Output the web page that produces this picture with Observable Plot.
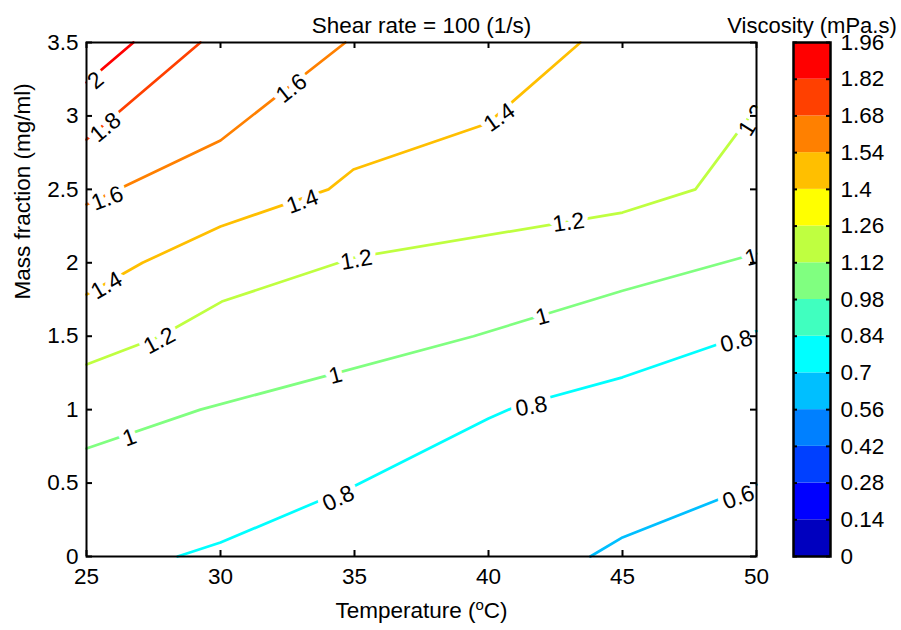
<!DOCTYPE html>
<html>
<head>
<meta charset="utf-8">
<script src="https://cdn.jsdelivr.net/npm/d3@7"></script>
<script src="https://cdn.jsdelivr.net/npm/@observablehq/plot@0.6"></script>
<style>
  body { margin: 0; background: white; }
  #wrap { position: relative; width: 901px; height: 630px; background: white; }
  #wrap svg { display: block; }
  #cb { position: absolute; left: 700px; top: 0; }
</style>
</head>
<body>
<div id="wrap"><div id="main"></div><div id="cb"></div></div>
<script>
// ---------- data ----------
const titleText = "Shear rate = 100 (1/s)";
const xLabel = "Temperature (oC)";
const yLabel = "Mass fraction (mg/ml)";
const cbTitle = "Viscosity (mPa.s)";

const xTicks = [25, 30, 35, 40, 45, 50];
const xTickLabels = ["25", "30", "35", "40", "45", "50"];
const yTicks = [0, 0.5, 1, 1.5, 2, 2.5, 3, 3.5];
const yTickLabels = ["0", "0.5", "1", "1.5", "2", "2.5", "3", "3.5"];

const cbTicks = [0, 0.14, 0.28, 0.42, 0.56, 0.7, 0.84, 0.98, 1.12, 1.26, 1.4, 1.54, 1.68, 1.82, 1.96];
const cbTickLabels = ["0", "0.14", "0.28", "0.42", "0.56", "0.7", "0.84", "0.98", "1.12", "1.26", "1.4", "1.54", "1.68", "1.82", "1.96"];
const cbColors = ["#0000BF", "#0000FF", "#0040FF", "#0080FF", "#00BFFF", "#00FFFF", "#40FFBF",
                  "#80FF80", "#BFFF40", "#FFFF00", "#FFBF00", "#FF8000", "#FF4000", "#FF0000"];

// contour lines: [temperature, mass fraction]
const levels = [0.6, 0.8, 1, 1.2, 1.4, 1.6, 1.8, 2];
const c06 = [[43.8, 0], [45, 0.13], [50, 0.49]];
const c08 = [[28.4, 0], [30, 0.095], [35, 0.48], [40, 0.94], [41, 1.02], [45, 1.22], [50, 1.535]];
const c10 = [[25, 0.735], [29.25, 1.0], [39.44, 1.5], [45, 1.81], [50, 2.063]];
const c12 = [[25, 1.307], [27.76, 1.5], [30.05, 1.736], [35, 2.036], [45, 2.342], [47.72, 2.5], [50, 3.06]];
const c14 = [[25, 1.784], [27.09, 2.0], [30, 2.247], [34.03, 2.5], [34.96, 2.635], [39.96, 2.948], [43.43, 3.5]];
const c16 = [[25, 2.397], [30, 2.833], [34.66, 3.5]];
const c18 = [[25, 2.839], [29.25, 3.5]];
const c20 = [[25, 3.228], [26.75, 3.5]];
const contourPts = [c06, c08, c10, c12, c14, c16, c18, c20];

// contour labels
const labelText  = ["2", "1.8", "1.6", "1.6", "1.4", "1.4", "1.4", "1.2", "1.2", "1.2", "1.2", "1", "1", "1", "1", "0.8", "0.8", "0.8", "0.6"];
const labelT     = [25.34, 25.71, 25.78, 32.65, 25.75, 33.06, 40.41, 27.72, 35.07, 42.99, 49.85, 26.6, 34.29, 42.01, 49.81, 34.4, 41.6, 49.25, 49.33];
const labelM     = [3.241, 2.921, 2.438, 3.187, 1.845, 2.417, 2.989, 1.47, 2.02, 2.274, 2.97, 0.81, 1.232, 1.634, 2.036, 0.395, 1.021, 1.464, 0.402];
const labelAngle = [-40, -40, -21, -38, -30, -20, -35, -28, -10, -8, -58, -20, -15, -16, -15, -25, -10, -15, -20];

// ---------- tables ----------
const lineRows = [];
levels.forEach((lv, i) => contourPts[i].forEach(([T, m]) => lineRows.push({level: lv, T, m})));
const labelRows = labelText.map((t, i) => ({text: t, T: labelT[i], m: labelM[i], angle: labelAngle[i]}));
const bands = cbColors.map((c, i) => ({lo: cbTicks[i], hi: cbTicks[i + 1], mid: (cbTicks[i] + cbTicks[i + 1]) / 2}));
const thresholds = cbTicks.slice(1, -1);

const font = "'Liberation Sans', Arial, Helvetica, sans-serif";
const fs = 22.5;
const colorScale = {type: "threshold", domain: thresholds, range: cbColors};

const main = Plot.plot({
  width: 770, height: 630,
  marginLeft: 86, marginRight: 14, marginTop: 42, marginBottom: 74,
  style: {fontFamily: font, fontSize: fs + "px", background: "white", color: "black"},
  x: {domain: [25, 50]},
  y: {domain: [0, 3.5]},
  color: colorScale,
  marks: [
    Plot.line(lineRows, {x: "T", y: "m", z: "level", stroke: "level", strokeWidth: 2.7}),
    Plot.text(labelRows, {x: "T", y: "m", text: "text", rotate: "angle", fontSize: 23, fill: "black",
      stroke: "white", strokeWidth: 11, paintOrder: "stroke", clip: true}),
    Plot.frame({stroke: "black", strokeWidth: 2}),
    Plot.tickX(xTicks, {x: d => d, insetTop: 508, stroke: "black", strokeWidth: 2}),
    Plot.tickX(xTicks, {x: d => d, insetBottom: 508, stroke: "black", strokeWidth: 2}),
    Plot.tickY(yTicks, {y: d => d, insetRight: 664, stroke: "black", strokeWidth: 2}),
    Plot.tickY(yTicks, {y: d => d, insetLeft: 664, stroke: "black", strokeWidth: 2}),
    Plot.axisX({ticks: xTicks, tickSize: 0, tickPadding: 12, label: null,
      tickFormat: d => xTickLabels[xTicks.indexOf(d)]}),
    Plot.axisY({ticks: yTicks, tickSize: 0, tickPadding: 8, label: null,
      tickFormat: d => yTickLabels[yTicks.indexOf(d)]}),
    Plot.text([titleText], {text: d => d, frameAnchor: "top", dy: -25, fontSize: fs}),
    Plot.text([xLabel], {text: d => d, frameAnchor: "bottom", dy: 61, fontSize: fs}),
    Plot.text([yLabel], {text: d => d, frameAnchor: "left", dx: -64, rotate: -90, fontSize: fs})
  ]
});
document.getElementById("main").appendChild(main);

// superscript "o" in the x label
d3.select(main).selectAll("text").filter(function () { return this.textContent === xLabel; })
  .each(function () {
    const t = d3.select(this);
    t.text(null);
    t.append("tspan").text("Temperature (");
    t.append("tspan").attr("dy", "-8").attr("font-size", "15px").text("o");
    t.append("tspan").attr("dy", "8").text("C)");
  });

const cb = Plot.plot({
  width: 201, height: 630,
  marginLeft: 93, marginRight: 71, marginTop: 42, marginBottom: 74,
  style: {fontFamily: font, fontSize: fs + "px", background: "transparent", color: "black", overflow: "visible"},
  x: {domain: [0, 1], axis: null},
  y: {domain: [0, 1.96], axis: null},
  color: colorScale,
  marks: [
    Plot.rect(bands, {x1: 0, x2: 1, y1: "lo", y2: "hi", fill: "mid"}),
    Plot.tickY(cbTicks, {y: d => d, insetRight: 33, stroke: "black", strokeWidth: 2}),
    Plot.tickY(cbTicks, {y: d => d, insetLeft: 33, stroke: "black", strokeWidth: 2}),
    Plot.frame({stroke: "black", strokeWidth: 2.5}),
    Plot.axisY({anchor: "right", ticks: cbTicks, tickSize: 0, tickPadding: 10, label: null,
      tickFormat: d => cbTickLabels[cbTicks.indexOf(d)]}),
    Plot.text([cbTitle], {text: d => d, frameAnchor: "top", dy: -25, fontSize: 22})
  ]
});
document.getElementById("cb").appendChild(cb);
</script>
</body>
</html>
